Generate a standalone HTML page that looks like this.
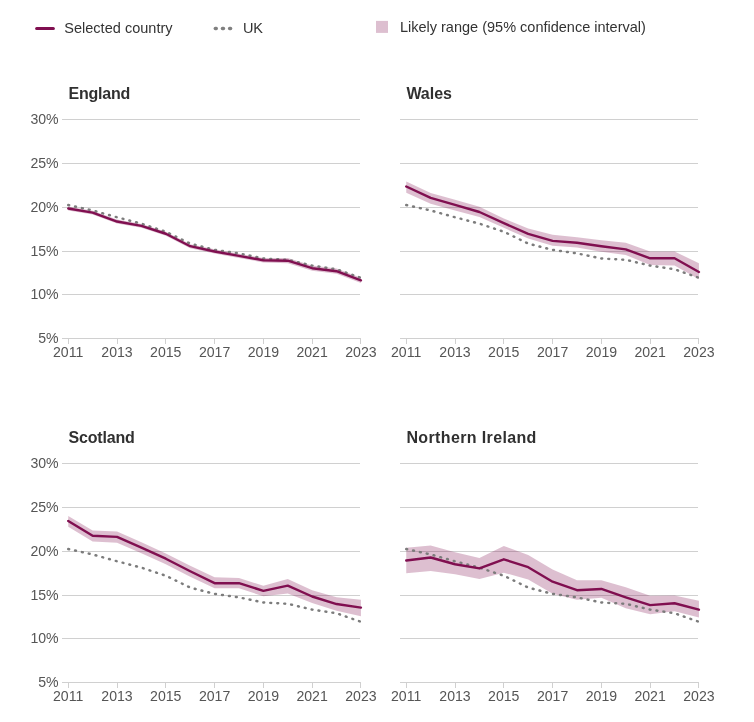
<!DOCTYPE html>
<html lang="en">
<head>
<meta charset="utf-8">
<title>Selected country compared with UK</title>
<style>
html,body{margin:0;padding:0;background:#fff;}
body{width:754px;height:722px;overflow:hidden;font-family:"Liberation Sans","DejaVu Sans",sans-serif;}
svg{display:block;}
text{font-family:"Liberation Sans","DejaVu Sans",sans-serif;}
.leg{font-size:14.5px;fill:#333333;}
.ttl{font-size:16px;font-weight:bold;fill:#303030;}
.tick{font-size:14.1px;fill:#555555;}
.grid{stroke:#d0d0d0;stroke-width:1;fill:none;shape-rendering:crispEdges;}
.band{fill:#800f50;fill-opacity:0.265;stroke:none;}
.main{stroke:#800f50;stroke-width:2.4;fill:none;stroke-linecap:round;stroke-linejoin:round;}
.uk{stroke:#7c7c7c;stroke-width:2.45;fill:none;stroke-dasharray:0.9 6.1;stroke-linecap:round;}
</style>
</head>
<body>
<svg width="754" height="722" viewBox="0 0 754 722">
<rect x="0" y="0" width="754" height="722" fill="#ffffff"/>

<g>
<line x1="36.6" y1="28.4" x2="53.4" y2="28.4" stroke="#800f50" stroke-width="3" stroke-linecap="round"/>
<text class="leg" x="64.2" y="32.9" textLength="108.4" lengthAdjust="spacing">Selected country</text>
<line x1="215.25" y1="28.5" x2="216.35" y2="28.5" stroke="#808080" stroke-width="3.3" stroke-linecap="round"/>
<line x1="222.40" y1="28.5" x2="223.50" y2="28.5" stroke="#808080" stroke-width="3.3" stroke-linecap="round"/>
<line x1="229.55" y1="28.5" x2="230.65" y2="28.5" stroke="#808080" stroke-width="3.3" stroke-linecap="round"/>
<text class="leg" x="242.9" y="32.9">UK</text>
<rect x="376" y="20.9" width="12" height="12" fill="#800f50" fill-opacity="0.265"/>
<text class="leg" x="399.9" y="31.8" textLength="246" lengthAdjust="spacing">Likely range (95% confidence interval)</text>
</g>
<g>
<text class="ttl" x="68.4" y="98.6" textLength="62" lengthAdjust="spacing">England</text>
<line class="grid" x1="62.0" y1="119.5" x2="360.0" y2="119.5"/>
<text class="tick" x="58.6" y="124.2" text-anchor="end">30%</text>
<line class="grid" x1="62.0" y1="163.5" x2="360.0" y2="163.5"/>
<text class="tick" x="58.6" y="168.2" text-anchor="end">25%</text>
<line class="grid" x1="62.0" y1="207.5" x2="360.0" y2="207.5"/>
<text class="tick" x="58.6" y="212.2" text-anchor="end">20%</text>
<line class="grid" x1="62.0" y1="251.5" x2="360.0" y2="251.5"/>
<text class="tick" x="58.6" y="256.2" text-anchor="end">15%</text>
<line class="grid" x1="62.0" y1="294.5" x2="360.0" y2="294.5"/>
<text class="tick" x="58.6" y="299.2" text-anchor="end">10%</text>
<line class="grid" x1="62.0" y1="338.5" x2="360.0" y2="338.5"/>
<text class="tick" x="58.6" y="343.2" text-anchor="end">5%</text>
<line class="grid" x1="68.50" y1="338.0" x2="68.50" y2="344.0"/>
<text class="tick" x="68.2" y="357.1" text-anchor="middle">2011</text>
<line class="grid" x1="117.50" y1="338.0" x2="117.50" y2="344.0"/>
<text class="tick" x="117.0" y="357.1" text-anchor="middle">2013</text>
<line class="grid" x1="165.50" y1="338.0" x2="165.50" y2="344.0"/>
<text class="tick" x="165.8" y="357.1" text-anchor="middle">2015</text>
<line class="grid" x1="214.50" y1="338.0" x2="214.50" y2="344.0"/>
<text class="tick" x="214.6" y="357.1" text-anchor="middle">2017</text>
<line class="grid" x1="263.50" y1="338.0" x2="263.50" y2="344.0"/>
<text class="tick" x="263.4" y="357.1" text-anchor="middle">2019</text>
<line class="grid" x1="312.50" y1="338.0" x2="312.50" y2="344.0"/>
<text class="tick" x="312.1" y="357.1" text-anchor="middle">2021</text>
<line class="grid" x1="360.50" y1="338.0" x2="360.50" y2="344.0"/>
<text class="tick" x="360.9" y="357.1" text-anchor="middle">2023</text>
<polygon class="band" points="68.25,206.54 92.64,210.75 117.03,219.61 141.42,224.00 165.81,231.81 190.20,244.27 214.59,249.36 238.98,253.75 263.37,258.05 287.76,258.05 312.15,265.59 336.54,268.58 360.93,277.79 360.93,283.05 336.54,273.84 312.15,270.86 287.76,263.31 263.37,262.43 238.98,257.96 214.59,253.57 190.20,248.13 165.81,235.67 141.42,227.86 117.03,223.47 92.64,214.61 68.25,210.40"/>
<polyline class="uk" points="68.25,205.04 92.64,210.48 117.03,217.24 141.42,223.65 165.81,231.72 190.20,243.57 214.59,249.88 238.98,253.39 263.37,258.48 287.76,259.80 312.15,265.59 336.54,269.28 360.93,277.79"/>
<polyline class="main" points="68.25,208.47 92.64,212.68 117.03,221.54 141.42,225.93 165.81,233.74 190.20,246.20 214.59,251.46 238.98,255.85 263.37,260.24 287.76,260.68 312.15,268.22 336.54,271.21 360.93,280.42"/>
</g>
<g>
<text class="ttl" x="406.4" y="98.6" textLength="45.5" lengthAdjust="spacing">Wales</text>
<line class="grid" x1="400.0" y1="119.5" x2="698.0" y2="119.5"/>
<line class="grid" x1="400.0" y1="163.5" x2="698.0" y2="163.5"/>
<line class="grid" x1="400.0" y1="207.5" x2="698.0" y2="207.5"/>
<line class="grid" x1="400.0" y1="251.5" x2="698.0" y2="251.5"/>
<line class="grid" x1="400.0" y1="294.5" x2="698.0" y2="294.5"/>
<line class="grid" x1="400.0" y1="338.5" x2="698.0" y2="338.5"/>
<line class="grid" x1="406.50" y1="338.0" x2="406.50" y2="344.0"/>
<text class="tick" x="406.2" y="357.1" text-anchor="middle">2011</text>
<line class="grid" x1="455.50" y1="338.0" x2="455.50" y2="344.0"/>
<text class="tick" x="455.0" y="357.1" text-anchor="middle">2013</text>
<line class="grid" x1="503.50" y1="338.0" x2="503.50" y2="344.0"/>
<text class="tick" x="503.8" y="357.1" text-anchor="middle">2015</text>
<line class="grid" x1="552.50" y1="338.0" x2="552.50" y2="344.0"/>
<text class="tick" x="552.6" y="357.1" text-anchor="middle">2017</text>
<line class="grid" x1="601.50" y1="338.0" x2="601.50" y2="344.0"/>
<text class="tick" x="601.4" y="357.1" text-anchor="middle">2019</text>
<line class="grid" x1="650.50" y1="338.0" x2="650.50" y2="344.0"/>
<text class="tick" x="650.1" y="357.1" text-anchor="middle">2021</text>
<line class="grid" x1="698.50" y1="338.0" x2="698.50" y2="344.0"/>
<text class="tick" x="698.9" y="357.1" text-anchor="middle">2023</text>
<polygon class="band" points="406.25,181.53 430.64,192.93 455.03,199.69 479.42,206.80 503.81,218.47 528.20,228.47 552.59,234.70 576.98,237.16 601.37,240.32 625.76,242.78 650.15,251.46 674.54,251.46 698.93,263.31 698.93,279.37 674.54,265.50 650.15,265.07 625.76,255.06 601.37,251.64 576.98,247.60 552.59,245.67 528.20,238.39 503.81,227.86 479.42,216.89 455.03,210.40 430.64,203.82 406.25,192.67"/>
<polyline class="uk" points="406.25,205.04 430.64,210.48 455.03,217.24 479.42,223.65 503.81,231.72 528.20,243.57 552.59,249.88 576.98,253.39 601.37,258.48 625.76,259.80 650.15,265.59 674.54,269.28 698.93,277.79"/>
<polyline class="main" points="406.25,186.53 430.64,197.94 455.03,204.96 479.42,211.98 503.81,223.12 528.20,233.83 552.59,240.85 576.98,242.69 601.37,246.29 625.76,249.36 650.15,258.31 674.54,258.31 698.93,272.00"/>
</g>
<g>
<text class="ttl" x="68.4" y="442.6" textLength="66.5" lengthAdjust="spacing">Scotland</text>
<line class="grid" x1="62.0" y1="463.5" x2="360.0" y2="463.5"/>
<text class="tick" x="58.6" y="468.2" text-anchor="end">30%</text>
<line class="grid" x1="62.0" y1="507.5" x2="360.0" y2="507.5"/>
<text class="tick" x="58.6" y="512.2" text-anchor="end">25%</text>
<line class="grid" x1="62.0" y1="551.5" x2="360.0" y2="551.5"/>
<text class="tick" x="58.6" y="556.2" text-anchor="end">20%</text>
<line class="grid" x1="62.0" y1="595.5" x2="360.0" y2="595.5"/>
<text class="tick" x="58.6" y="600.2" text-anchor="end">15%</text>
<line class="grid" x1="62.0" y1="638.5" x2="360.0" y2="638.5"/>
<text class="tick" x="58.6" y="643.2" text-anchor="end">10%</text>
<line class="grid" x1="62.0" y1="682.5" x2="360.0" y2="682.5"/>
<text class="tick" x="58.6" y="687.2" text-anchor="end">5%</text>
<line class="grid" x1="68.50" y1="682.0" x2="68.50" y2="688.0"/>
<text class="tick" x="68.2" y="701.1" text-anchor="middle">2011</text>
<line class="grid" x1="117.50" y1="682.0" x2="117.50" y2="688.0"/>
<text class="tick" x="117.0" y="701.1" text-anchor="middle">2013</text>
<line class="grid" x1="165.50" y1="682.0" x2="165.50" y2="688.0"/>
<text class="tick" x="165.8" y="701.1" text-anchor="middle">2015</text>
<line class="grid" x1="214.50" y1="682.0" x2="214.50" y2="688.0"/>
<text class="tick" x="214.6" y="701.1" text-anchor="middle">2017</text>
<line class="grid" x1="263.50" y1="682.0" x2="263.50" y2="688.0"/>
<text class="tick" x="263.4" y="701.1" text-anchor="middle">2019</text>
<line class="grid" x1="312.50" y1="682.0" x2="312.50" y2="688.0"/>
<text class="tick" x="312.1" y="701.1" text-anchor="middle">2021</text>
<line class="grid" x1="360.50" y1="682.0" x2="360.50" y2="688.0"/>
<text class="tick" x="360.9" y="701.1" text-anchor="middle">2023</text>
<polygon class="band" points="68.25,515.96 92.64,530.53 117.03,531.49 141.42,542.29 165.81,553.43 190.20,565.63 214.59,577.30 238.98,578.09 263.37,585.81 287.76,578.97 312.15,590.29 336.54,597.22 360.93,599.85 360.93,616.17 336.54,610.82 312.15,603.01 287.76,593.62 263.37,596.17 238.98,588.27 214.59,588.27 190.20,576.77 165.81,564.31 141.42,553.17 117.03,542.64 92.64,541.41 68.25,526.67"/>
<polyline class="uk" points="68.25,549.04 92.64,554.48 117.03,561.24 141.42,567.65 165.81,575.72 190.20,587.57 214.59,593.88 238.98,597.39 263.37,602.48 287.76,603.80 312.15,609.59 336.54,613.28 360.93,621.79"/>
<polyline class="main" points="68.25,520.96 92.64,535.71 117.03,536.85 141.42,547.55 165.81,558.70 190.20,571.24 214.59,583.18 238.98,583.18 263.37,590.81 287.76,585.64 312.15,596.52 336.54,604.06 360.93,607.66"/>
</g>
<g>
<text class="ttl" x="406.4" y="442.6" textLength="130" lengthAdjust="spacing">Northern Ireland</text>
<line class="grid" x1="400.0" y1="463.5" x2="698.0" y2="463.5"/>
<line class="grid" x1="400.0" y1="507.5" x2="698.0" y2="507.5"/>
<line class="grid" x1="400.0" y1="551.5" x2="698.0" y2="551.5"/>
<line class="grid" x1="400.0" y1="595.5" x2="698.0" y2="595.5"/>
<line class="grid" x1="400.0" y1="638.5" x2="698.0" y2="638.5"/>
<line class="grid" x1="400.0" y1="682.5" x2="698.0" y2="682.5"/>
<line class="grid" x1="406.50" y1="682.0" x2="406.50" y2="688.0"/>
<text class="tick" x="406.2" y="701.1" text-anchor="middle">2011</text>
<line class="grid" x1="455.50" y1="682.0" x2="455.50" y2="688.0"/>
<text class="tick" x="455.0" y="701.1" text-anchor="middle">2013</text>
<line class="grid" x1="503.50" y1="682.0" x2="503.50" y2="688.0"/>
<text class="tick" x="503.8" y="701.1" text-anchor="middle">2015</text>
<line class="grid" x1="552.50" y1="682.0" x2="552.50" y2="688.0"/>
<text class="tick" x="552.6" y="701.1" text-anchor="middle">2017</text>
<line class="grid" x1="601.50" y1="682.0" x2="601.50" y2="688.0"/>
<text class="tick" x="601.4" y="701.1" text-anchor="middle">2019</text>
<line class="grid" x1="650.50" y1="682.0" x2="650.50" y2="688.0"/>
<text class="tick" x="650.1" y="701.1" text-anchor="middle">2021</text>
<line class="grid" x1="698.50" y1="682.0" x2="698.50" y2="688.0"/>
<text class="tick" x="698.9" y="701.1" text-anchor="middle">2023</text>
<polygon class="band" points="406.25,547.73 430.64,545.53 455.03,552.20 479.42,557.91 503.81,545.97 528.20,555.01 552.59,569.49 576.98,580.37 601.37,580.37 625.76,587.30 650.15,595.81 674.54,595.38 698.93,600.82 698.93,617.40 674.54,611.17 650.15,614.33 625.76,608.19 601.37,597.83 576.98,599.76 552.59,593.80 528.20,579.58 503.81,572.65 479.42,578.97 455.03,574.23 430.64,570.98 406.25,573.18"/>
<polyline class="uk" points="406.25,549.04 430.64,554.48 455.03,561.24 479.42,567.65 503.81,575.72 528.20,587.57 552.59,593.88 576.98,597.39 601.37,602.48 625.76,603.80 650.15,609.59 674.54,613.28 698.93,621.79"/>
<polyline class="main" points="406.25,560.54 430.64,557.47 455.03,564.22 479.42,568.44 503.81,559.31 528.20,567.21 552.59,581.69 576.98,590.20 601.37,588.97 625.76,597.31 650.15,605.12 674.54,603.27 698.93,609.59"/>
</g>
</svg>
</body>
</html>
